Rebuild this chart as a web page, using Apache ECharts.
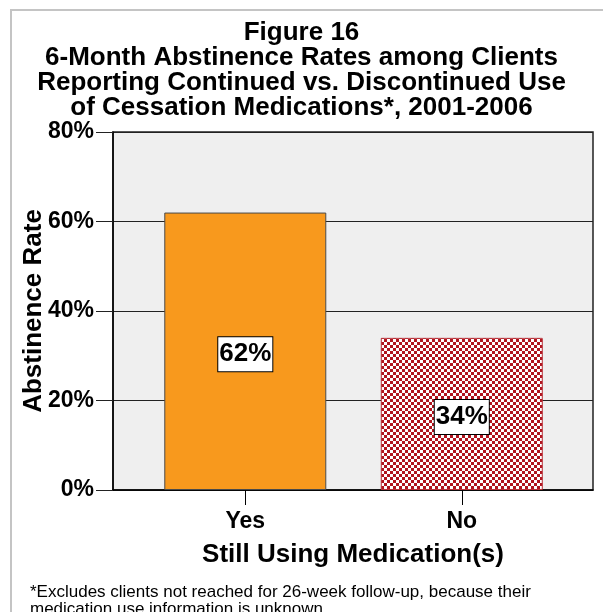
<!DOCTYPE html>
<html>
<head>
<meta charset="utf-8">
<script src="https://cdn.jsdelivr.net/npm/echarts@6/dist/echarts.min.js"></script>
<style>
  html, body { margin: 0; padding: 0; background: #fff; }
  #chart { width: 603px; height: 612px; }
</style>
</head>
<body>
<div id="chart"></div>
<script>
// Data
const categories = ['Yes', 'No'];
const abstinenceRates = [62, 34];
const yTicks = [0, 20, 40, 60, 80];
const titleLines = [
  'Figure 16',
  '6-Month Abstinence Rates among Clients',
  'Reporting Continued vs. Discontinued Use',
  'of Cessation Medications*, 2001-2006'
];
const footnoteLines = [
  '*Excludes clients not reached for 26-week follow-up, because their',
  'medication use information is unknown'
];
const xAxisTitle = 'Still Using Medication(s)';
const yAxisTitle = 'Abstinence Rate';

const FONT = '"Liberation Sans", Arial, sans-serif';

// Red/white checker tile for the "No" bar
function checkerTile(cell, dark, light) {
  const c = document.createElement('canvas');
  c.width = cell * 2; c.height = cell * 2;
  const g = c.getContext('2d');
  g.fillStyle = dark; g.fillRect(0, 0, cell * 2, cell * 2);
  g.fillStyle = light;
  g.fillRect(0, 0, cell, cell);
  g.fillRect(cell, cell, cell, cell);
  return c;
}

const barStyles = [
  { color: '#F8991D', borderColor: '#4a4a4a', borderWidth: 1 },
  { color: { image: checkerTile(3, '#B0141E', '#ffffff'), repeat: 'repeat' }, borderColor: '#B8323A', borderWidth: 1 }
];

const chart = echarts.init(document.getElementById('chart'), null, { renderer: 'canvas' });

chart.setOption({
  animation: false,
  backgroundColor: '#fff',
  textStyle: { fontFamily: FONT },
  graphic: [{
    type: 'rect',
    z: -10,
    shape: { x: 11, y: 10, width: 800, height: 800 },
    style: { fill: 'none', stroke: '#c4c4c4', lineWidth: 2 }
  }],
  title: [{
    text: titleLines.join('\n'),
    left: 'center',
    top: 15,
    textStyle: { fontFamily: FONT, fontSize: 26, fontWeight: 'bold', color: '#000', lineHeight: 25 }
  }, {
    text: footnoteLines.join('\n'),
    left: 25,
    top: 579,
    textStyle: { fontFamily: FONT, fontSize: 17, fontWeight: 'normal', color: '#000', lineHeight: 17 }
  }],
  grid: {
    left: 113, top: 132, width: 480, height: 358,
    show: true, backgroundColor: '#efefef', borderColor: '#222', borderWidth: 1.5
  },
  xAxis: {
    type: 'value',
    min: -0.611,
    max: 1.606,
    name: xAxisTitle,
    nameLocation: 'middle',
    nameGap: 52,
    nameMoveOverlap: false,
    nameTextStyle: { fontFamily: FONT, fontSize: 26, fontWeight: 'bold', color: '#000' },
    axisLine: { show: true, onZero: false, lineStyle: { color: '#000', width: 1.5 } },
    axisTick: { show: true, length: 15, customValues: [0, 1], lineStyle: { color: '#000', width: 1 } },
    axisLabel: {
      customValues: [0, 1],
      formatter: v => categories[Math.round(v)],
      margin: 20,
      fontFamily: FONT, fontSize: 23, fontWeight: 'bold', color: '#000'
    },
    splitLine: { show: false }
  },
  yAxis: {
    type: 'value',
    min: yTicks[0],
    max: yTicks[yTicks.length - 1],
    interval: yTicks[1] - yTicks[0],
    name: yAxisTitle,
    nameLocation: 'middle',
    nameGap: 66,
    nameMoveOverlap: false,
    nameTextStyle: { fontFamily: FONT, fontSize: 26, fontWeight: 'bold', color: '#000' },
    axisLine: { show: true, onZero: false, lineStyle: { color: '#000', width: 1.5 } },
    axisTick: { show: true, length: 17, lineStyle: { color: '#222', width: 1 } },
    axisLabel: {
      formatter: '{value}%',
      margin: 19,
      fontFamily: FONT, fontSize: 23, fontWeight: 'bold', color: '#000'
    },
    splitLine: { show: true, lineStyle: { color: '#222', width: 1 } }
  },
  series: [{
    type: 'bar',
    barWidth: 162,
    data: abstinenceRates.map((v, i) => ({ value: [i, v], itemStyle: barStyles[i] })),
    label: {
      show: true,
      position: 'inside',
      offset: [0, 3],
      formatter: p => p.value[1] + '%',
      fontFamily: FONT, fontSize: 26, fontWeight: 'bold', color: '#000',
      backgroundColor: '#fff', borderColor: '#000', borderWidth: 1,
      padding: [5, 1, 3, 1]
    }
  }]
});
</script>
</body>
</html>
